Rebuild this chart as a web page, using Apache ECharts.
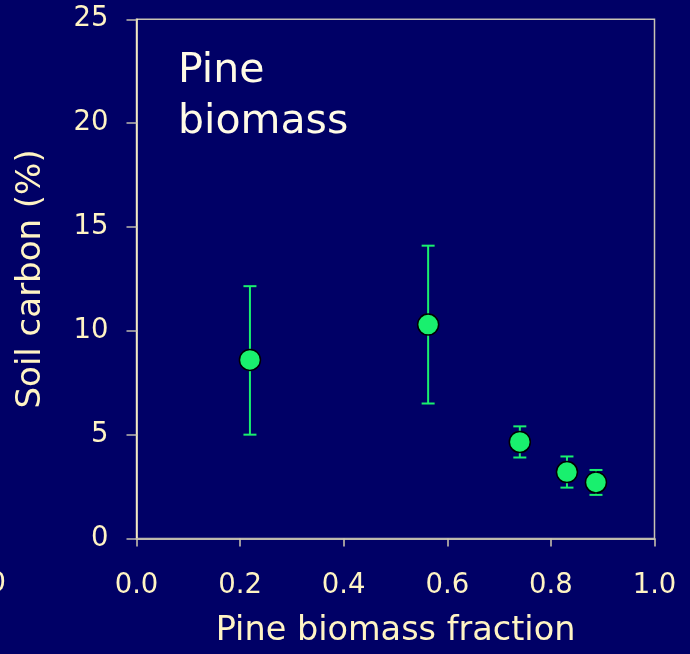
<!DOCTYPE html>
<html>
<head>
<meta charset="utf-8">
<script src="https://cdn.jsdelivr.net/npm/echarts@6/dist/echarts.min.js"></script>
<style>
html,body{margin:0;padding:0;background:#000066;}
#c{width:690px;height:654px;}
</style>
</head>
<body>
<div id="c"></div>
<script>
// Data
var pineFraction = [0.219, 0.563, 0.740, 0.831, 0.887];
var soilCarbon   = [8.6, 10.3, 4.65, 3.2, 2.7];
var errUpper     = [12.15, 14.1, 5.4, 3.95, 3.3];
var errLower     = [5.0, 6.5, 3.9, 2.45, 2.1];
var xTicks = [0.0, 0.2, 0.4, 0.6, 0.8, 1.0];
var yTicks = [0, 5, 10, 15, 20, 25];

var FONT = '"DejaVu Sans", Verdana, sans-serif';
var CREAM = '#fff4c4';
var GREEN = '#19f06e';

var points = pineFraction.map(function (x, i) { return [x, soilCarbon[i]]; });
var bars = pineFraction.map(function (x, i) { return [x, errLower[i], errUpper[i]]; });

var chart = echarts.init(document.getElementById('c'));
chart.setOption({
  backgroundColor: '#000066',
  animation: false,
  grid: {
    left: 136.5, right: 35.5, top: 19.3, bottom: 115.5,
    show: true, borderColor: '#c8c4b4', borderWidth: 1.5, backgroundColor: 'transparent'
  },
  xAxis: {
    type: 'value', min: 0, max: 1, interval: 0.2,
    name: 'Pine biomass fraction', nameLocation: 'middle', nameGap: 76,
    nameTextStyle: { color: CREAM, fontFamily: FONT, fontSize: 33.5 },
    axisLine: { show: true, lineStyle: { color: '#bdb9ad', width: 2 } },
    axisTick: { show: true, length: 8, lineStyle: { color: '#cfc9b0', width: 1.5 } },
    axisLabel: {
      color: CREAM, fontFamily: FONT, fontSize: 27.5, margin: 33,
      formatter: function (v) { return v.toFixed(1); }
    },
    splitLine: { show: false }
  },
  yAxis: {
    type: 'value', min: 0, max: 25, interval: 5,
    name: 'Soil carbon (%)', nameLocation: 'middle', nameGap: 88,
    nameTextStyle: { color: CREAM, fontFamily: FONT, fontSize: 34 },
    axisLine: { show: true, lineStyle: { color: '#fff6c8', width: 1.5 } },
    axisTick: { show: true, length: 10, lineStyle: { color: '#bdb9ad', width: 1.5 } },
    axisLabel: { color: CREAM, fontFamily: FONT, fontSize: 27.5, margin: 28 },
    splitLine: { show: false }
  },
  series: [
    {
      type: 'custom',
      data: bars,
      z: 2,
      renderItem: function (params, api) {
        var x = api.value(0);
        var lo = api.coord([x, api.value(1)]);
        var hi = api.coord([x, api.value(2)]);
        var hw = 6.5;
        var st = { stroke: GREEN, lineWidth: 2 };
        return {
          type: 'group',
          children: [
            { type: 'line', shape: { x1: lo[0], y1: lo[1], x2: hi[0], y2: hi[1] }, style: st },
            { type: 'line', shape: { x1: lo[0] - hw, y1: lo[1], x2: lo[0] + hw, y2: lo[1] }, style: st },
            { type: 'line', shape: { x1: hi[0] - hw, y1: hi[1], x2: hi[0] + hw, y2: hi[1] }, style: st }
          ]
        };
      }
    },
    {
      type: 'scatter',
      data: points,
      z: 3,
      symbol: 'circle',
      symbolSize: 21,
      itemStyle: { color: GREEN, borderColor: '#000000', borderWidth: 1.5, opacity: 1 }
    }
  ],
  graphic: [
    {
      type: 'text', left: 178, top: 46,
      style: { text: 'Pine\nbiomass', fill: '#fffbe6', font: '41px ' + FONT, lineHeight: 51 }
    },
    {
      type: 'text', x: 6, y: 584,
      style: { text: '1.0', fill: CREAM, font: '27px ' + FONT, align: 'right', verticalAlign: 'middle' }
    }
  ]
});
</script>
</body>
</html>
